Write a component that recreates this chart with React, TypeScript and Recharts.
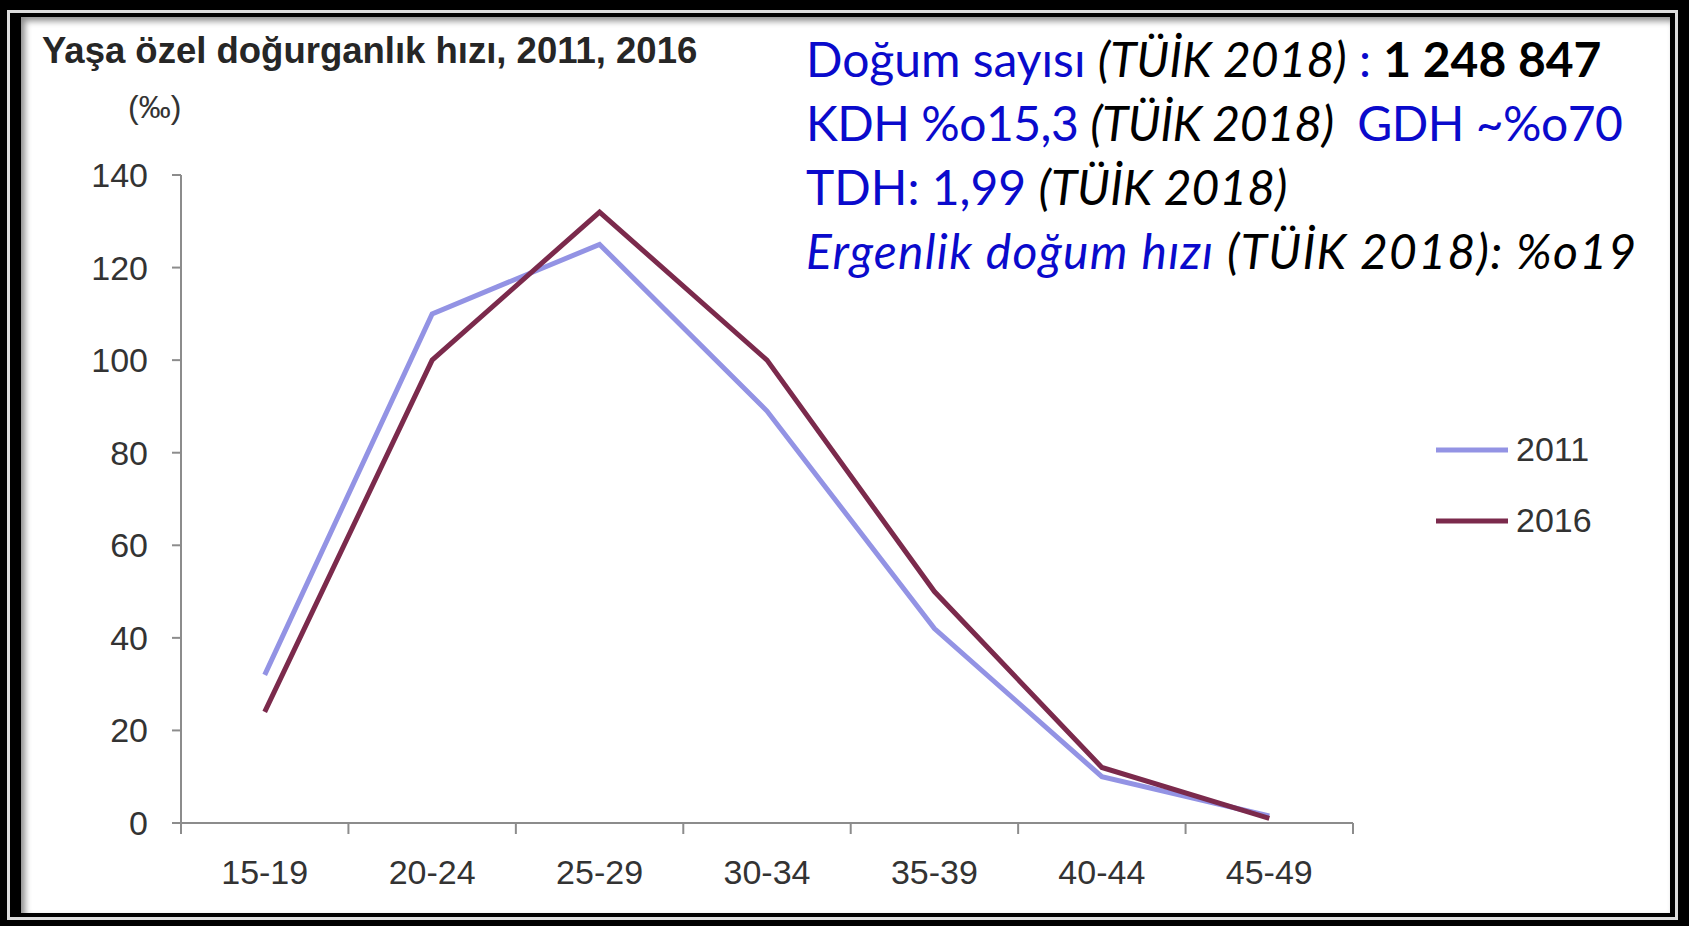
import React from 'react';
import { LineChart, Line, XAxis, YAxis, Legend } from 'recharts';

const AGE_GROUPS = ['15-19', '20-24', '25-29', '30-34', '35-39', '40-44', '45-49'];
const RATE_2011 = [32, 110, 125, 89, 42, 10, 1.5];
const RATE_2016 = [24, 100, 132, 100, 50, 12, 1];
const Y_TICKS = [0, 20, 40, 60, 80, 100, 120, 140];

const AXIS_FONT = "'Liberation Sans', Arial, sans-serif";
const NOTE_FONT = "Lato, 'Open Sans', sans-serif";
const BLUE = '#0a0acc';
const AXIS_GRAY = '#8c8c8c';

const data = AGE_GROUPS.map((group, i) => ({
  pos: i,
  group,
  y2011: RATE_2011[i],
  y2016: RATE_2016[i],
}));

// ticks at the category boundaries (marks) and centres (labels)
const xTicks = AGE_GROUPS.flatMap((_, i) => [i - 0.5, i]).concat(AGE_GROUPS.length - 0.5);

const XTick = (props: any) => {
  const { x, y, payload } = props;
  const v = payload.value;
  if (Number.isInteger(v)) {
    return (
      <text x={x} y={y + 61} textAnchor="middle" fontSize={34} fill="#333" fontFamily={AXIS_FONT}>
        {AGE_GROUPS[v]}
      </text>
    );
  }
  return <line x1={x} x2={x} y1={y} y2={y + 11} stroke={AXIS_GRAY} strokeWidth={2} />;
};

const LegendBox = (props: any) => {
  const { payload } = props;
  return (
    <div>
      {payload.map((item: any) => (
        <div key={item.value} style={{ display: 'flex', alignItems: 'center', height: 71 }}>
          <svg width={72} height={10}>
            <line x1={0} x2={72} y1={5} y2={5} stroke={item.color} strokeWidth={5} />
          </svg>
          <span style={{ marginLeft: 8, fontSize: 34, color: '#333', fontFamily: AXIS_FONT }}>{item.value}</span>
        </div>
      ))}
    </div>
  );
};

const App: React.FC = () => {
  return (
    <div style={{ position: 'relative', width: 1689, height: 926, background: '#000', overflow: 'hidden' }}>
      <style>{'body{margin:0}'}</style>
      <div
        style={{
          position: 'absolute', left: 7, top: 10, width: 1671, height: 910,
          border: '3px solid #dcdcdc', boxSizing: 'border-box', background: '#000',
        }}
      />
      <div
        style={{
          position: 'absolute', left: 21, top: 17, width: 1649, height: 896,
          background: '#fff', boxShadow: 'inset 4px 4px 6px rgba(0,0,0,0.45)',
        }}
      />
      <div style={{ position: 'absolute', left: 0, top: 0 }}>
        <LineChart width={1689} height={926} data={data} margin={{ top: 175, right: 336, bottom: 43, left: 81 }}>
          <XAxis
            dataKey="pos"
            type="number"
            domain={[-0.5, AGE_GROUPS.length - 0.5]}
            ticks={xTicks}
            interval={0}
            height={60}
            tick={<XTick />}
            tickLine={false}
            tickSize={0}
            tickMargin={0}
            axisLine={{ stroke: AXIS_GRAY, strokeWidth: 2 }}
          />
          <YAxis
            width={100}
            domain={[0, 140]}
            ticks={Y_TICKS}
            interval={0}
            tickSize={9}
            tickMargin={24}
            tick={{ fontSize: 34, fill: '#333', fontFamily: AXIS_FONT }}
            tickLine={{ stroke: AXIS_GRAY, strokeWidth: 2 }}
            axisLine={{ stroke: AXIS_GRAY, strokeWidth: 2 }}
          />
          <Legend
            layout="horizontal"
            verticalAlign="middle"
            align="center"
            content={<LegendBox />}
            wrapperStyle={{ left: 1436, top: 414, width: 200 }}
          />
          <Line
            type="linear"
            dataKey="y2011"
            name="2011"
            stroke="#9393e4"
            strokeWidth={5}
            dot={false}
            isAnimationActive={false}
          />
          <Line
            type="linear"
            dataKey="y2016"
            name="2016"
            stroke="#7b2a4c"
            strokeWidth={5}
            dot={false}
            isAnimationActive={false}
          />
        </LineChart>
      </div>
      <svg
        width={1689}
        height={926}
        style={{ position: 'absolute', left: 0, top: 0, pointerEvents: 'none' }}
      >
        <text x={42} y={63} fontSize={36.5} fontWeight="bold" fill="#262626" fontFamily={AXIS_FONT}>
          Yaşa özel doğurganlık hızı, 2011, 2016
        </text>
        <text x={128} y={118} fontSize={32} fill="#333" fontFamily={AXIS_FONT}>
          (‰)
        </text>
        <g fontFamily={NOTE_FONT} fontSize={48}>
          <text x={806} y={77}>
            <tspan fill={BLUE}>Doğum sayısı </tspan>
            <tspan fill="#000" fontStyle="italic">(TÜİK 2018)</tspan>
            <tspan fill={BLUE}> : </tspan>
            <tspan fill="#000" fontWeight="bold">1 248 847</tspan>
          </text>
          <text x={806} y={141} letterSpacing={-0.5}>
            <tspan fill={BLUE}>KDH %o15,3 </tspan>
            <tspan fill="#000" fontStyle="italic">(TÜİK 2018)</tspan>
            <tspan fill={BLUE}>{'\u00a0 GDH ~%o70'}</tspan>
          </text>
          <text x={806} y={205}>
            <tspan fill={BLUE}>TDH: 1,99 </tspan>
            <tspan fill="#000" fontStyle="italic">(TÜİK 2018)</tspan>
          </text>
          <text x={806} y={269} letterSpacing={1.3}>
            <tspan fill={BLUE} fontStyle="italic">Ergenlik doğum hızı </tspan>
            <tspan fill="#000" fontStyle="italic">(TÜİK 2018): %o19</tspan>
          </text>
        </g>
      </svg>
    </div>
  );
};

export default App;
